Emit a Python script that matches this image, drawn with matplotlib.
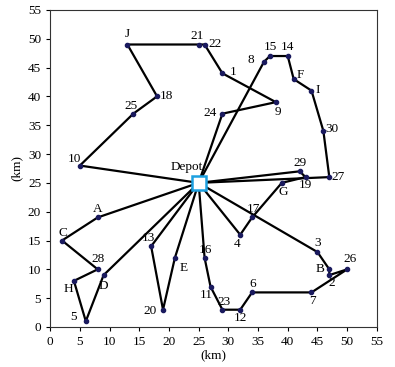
import matplotlib.pyplot as plt

plt.rcParams['font.family'] = ['Liberation Serif', 'DejaVu Serif']

# node coordinates (km)
depot = (25, 25)
nodes = {
    '1': (29, 44), '2': (47, 9), '3': (45, 13), '4': (32, 16), '5': (6, 1),
    '6': (34, 6), '7': (44, 6), '8': (36, 46), '9': (38, 39), '10': (5, 28),
    '11': (27, 7), '12': (32, 3), '13': (17, 14), '14': (40, 47), '15': (37, 47),
    '16': (26, 12), '17': (34, 19), '18': (18, 40), '19': (43, 26), '20': (19, 3),
    '21': (25, 49), '22': (26, 49), '23': (29, 3), '24': (29, 37), '25': (14, 37),
    '26': (50, 10), '27': (47, 26), '28': (8, 10), '29': (42, 27), '30': (46, 34),
    'A': (8, 19), 'B': (47, 10), 'C': (2, 15), 'D': (9, 9), 'E': (21, 12),
    'F': (41, 43), 'G': (39, 25), 'H': (4, 8), 'I': (44, 41), 'J': (13, 49),
}

# routes, each starting and ending at the depot
routes = [
    ['10', '25', '18', 'J', '21', '22', '1', '9', '24'],
    ['8', '15', '14', 'F', 'I', '30', '27'],
    ['29', '19', 'G', '17', '4'],
    ['3', 'B', '2', '26', '7', '6', '12', '23', '11', '16'],
    ['13', '20', 'E'],
    ['A', 'C', '28', 'H', '5', 'D'],
]

# label offsets in pixels
offsets = {
    '1': (11, 1), '2': (2, -8), '3': (0, 9), '4': (-3, -9), '5': (-12, 4),
    '6': (1, 8), '7': (1, -9), '8': (-13, 2), '9': (2, -10), '10': (-5, 7),
    '11': (-4, -8), '12': (0, -8), '13': (-3, 8), '14': (0, 9), '15': (0, 9),
    '16': (1, 8), '17': (1, 8), '18': (9, 0), '19': (0, -8), '20': (-13, -1),
    '21': (-2, 9), '22': (10, 1), '23': (2, 8), '24': (-12, 1), '25': (-2, 8),
    '26': (3, 10), '27': (9, 0), '28': (0, 10), '29': (0, 8), '30': (9, 2),
    'A': (0, 8), 'B': (-9, 0), 'C': (1, 8), 'D': (0, -11), 'E': (9, -10),
    'F': (7, 4), 'G': (1, -9), 'H': (-6, -8), 'I': (6, 1), 'J': (0, 11),
}

fig = plt.figure(figsize=(3.95, 3.67), dpi=100)
ax = fig.add_axes([0.127, 0.109, 0.827, 0.864])

for r in routes:
    pts = [depot] + [nodes[n] for n in r] + [depot]
    xs = [p[0] for p in pts]
    ys = [p[1] for p in pts]
    ax.plot(xs, ys, color='black', lw=1.6, zorder=2)

ax.plot([p[0] for p in nodes.values()], [p[1] for p in nodes.values()],
        'o', ms=3, color='#1a1a5e', zorder=3)

for name, (x, y) in nodes.items():
    dx, dy = offsets[name]
    ax.annotate(name, (x, y), xytext=(dx, dy), textcoords='offset pixels',
                ha='center', va='center', fontsize=9.5, zorder=4)

ax.plot(*depot, 's', ms=10, mfc='white', mec='#1ca0e0', mew=1.8, zorder=5)
ax.annotate('Depot', depot, xytext=(-12, 16), textcoords='offset pixels',
            ha='center', va='center', fontsize=9.5, zorder=4)

ax.set_xlim(0, 55)
ax.set_ylim(0, 55)
ax.set_xticks(range(0, 56, 5))
ax.set_yticks(range(0, 56, 5))
ax.tick_params(labelsize=9.5, length=3, width=0.8)
for s in ax.spines.values():
    s.set_linewidth(0.8)
    s.set_color('#333333')
ax.set_xlabel('(km)', fontsize=9.5, labelpad=1)
ax.set_ylabel('(km)', fontsize=9.5)

fig.savefig('out.png', dpi=100)
